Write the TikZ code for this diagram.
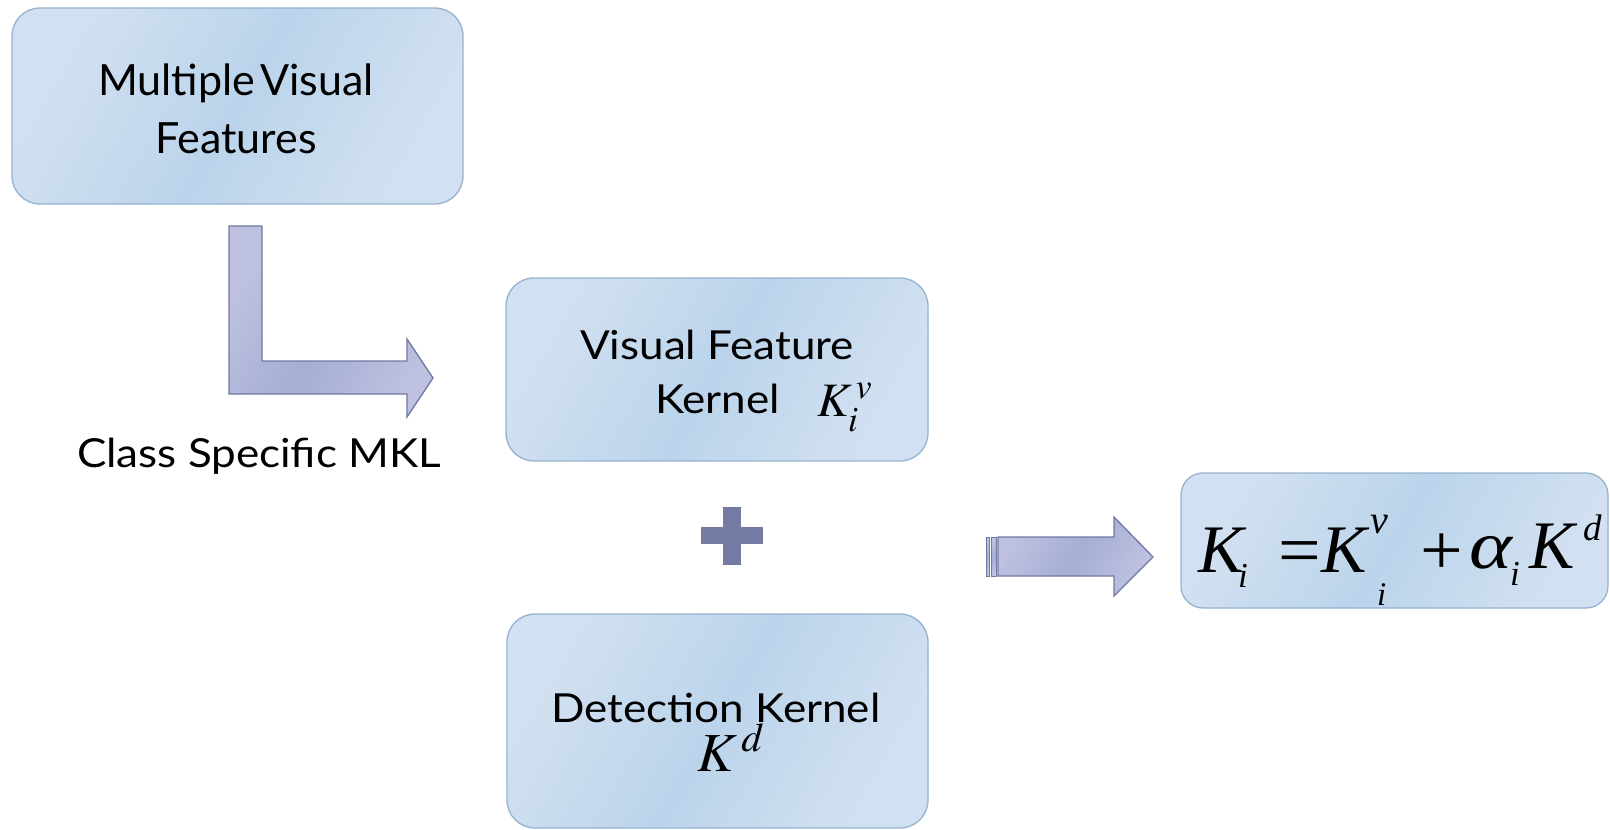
\documentclass[tikz,border=0pt]{standalone}
\usepackage{mathptmx}
\usepackage[no-math]{fontspec}
\usepackage{graphicx}
\setmainfont{Lato}
\newfontfamily\widefont{Lato}[FakeStretch=1.1]
\newfontfamily\tnr{Liberation Serif}
% #1 x-scale, #2 y-scale, #3 size, #4 text
\newcommand{\fit}[4]{\scalebox{#1}[#2]{\tnr\itshape\fontsize{#3}{#3}\selectfont #4}}
\newcommand{\fup}[4]{\scalebox{#1}[#2]{\tnr\fontsize{#3}{#3}\selectfont #4}}
\definecolor{boxL}{RGB}{210,225,241}
\definecolor{boxM}{RGB}{187,212,235}
\definecolor{boxB}{RGB}{150,178,208}
\definecolor{arrL}{RGB}{190,193,224}
\definecolor{arrM}{RGB}{166,174,212}
\definecolor{arrB}{RGB}{112,121,160}
\definecolor{plusC}{RGB}{115,123,163}
\begin{document}
\begin{tikzpicture}[x=1pt,y=-1pt,
  kbox/.style={draw=boxB, line width=1.3pt, rounded corners=#1,
    left color=boxL, right color=boxL, middle color=boxM, shading angle=60,
    inner sep=0pt},
  kbox/.default=28pt,
  blockarrow/.style={draw=arrB, line width=1.3pt, line join=miter,
    left color=arrL, right color=arrL, middle color=arrM, shading angle=60},
  lbl/.style={anchor=base, inner sep=0pt, text=black},
  mth/.style={anchor=base west, inner sep=0pt, text=black},
  bigtxt/.style={font=\fontsize{43}{50}\selectfont},
  midtxt/.style={font=\widefont\fontsize{40}{46}\selectfont}]
\useasboundingbox (0,0) rectangle (1610,830);
\clip (0,0) rectangle (1610,830);

% boxes
\node[kbox, minimum width=451pt, minimum height=196pt] (b1) at (237.5,106) {};
\node[kbox, minimum width=422pt, minimum height=183pt] (b2) at (717,369.5) {};
\node[kbox, minimum width=421pt, minimum height=214pt] (b3) at (717.5,721) {};
\node[kbox=22pt, minimum width=427pt, minimum height=135pt] (b4) at (1394.5,540.5) {};

% box texts
\node[lbl, bigtxt] (t1a) at (236,95) {Multiple\hspace{0.12em}Visual};
\node[lbl, bigtxt] (t1b) at (236,153) {Features};
\node[lbl, midtxt] (t2a) at (717,359) {Visual Feature};
\node[lbl, midtxt, anchor=base west] (t2b) at (655,413) {Kernel};
\node[mth] (t2k) at (817,416)
  {\fontsize{48}{52}\selectfont $K_{\lower4pt\hbox{$\scriptstyle i$}}^{\,v}$};
\node[lbl, midtxt] (t3a) at (716,722) {Detection Kernel};
\node[mth] (t3k) at (697,771)
  {\fontsize{55}{60}\selectfont $K^{\,d}$};

% formula K_i = K_i^v + alpha_i K^d
\node[mth] (fK1) at (1198,572) {\fit{1}{1}{68}{K}};
\node[mth] (fi1) at (1238,587) {\fit{1}{1}{35}{i}};
\node[mth] (feq) at (1278,574) {\fup{1.05}{1}{72}{=}};
\node[mth] (fK2) at (1321,572) {\fit{1}{1}{68}{K}};
\node[mth] (fv)  at (1370,533) {\fit{1}{1}{40}{v}};
\node[mth] (fi2) at (1377,605) {\fit{1}{1}{33}{i}};
\node[mth] (fpl) at (1420,574) {\fup{1.05}{1}{72}{+}};
\node[mth] (fal) at (1469,568) {\fit{1.2}{1}{68}{α}};
\node[mth] (fi3) at (1510,585) {\fit{1}{1}{35}{i}};
\node[mth] (fK3) at (1529,568) {\fit{1}{1}{68}{K}};
\node[mth] (fd)  at (1583,540) {\fit{1}{1}{37}{d}};

% label
\node[lbl, midtxt] (mkl) at (259,467) {Class Specific MKL};

% L-shaped block arrow
\draw[blockarrow] (229,226) -- (262,226) -- (262,361) -- (407,361) -- (407,339)
  -- (433,378) -- (407,417) -- (407,394) -- (229,394) -- cycle;

% plus sign
\fill[plusC] (723,507) rectangle (741,565);
\fill[plusC] (701,527) rectangle (763,544);
\coordinate (plus) at (732,536);

% striped right arrow
\draw[blockarrow, line width=1pt] (986,537) rectangle (989,576);
\draw[blockarrow, line width=1pt] (991,537) rectangle (996,576);
\draw[blockarrow] (998,537) -- (1114,537) -- (1114,517) -- (1153,557)
  -- (1114,596) -- (1114,576) -- (998,576) -- cycle;
\end{tikzpicture}
\end{document}
